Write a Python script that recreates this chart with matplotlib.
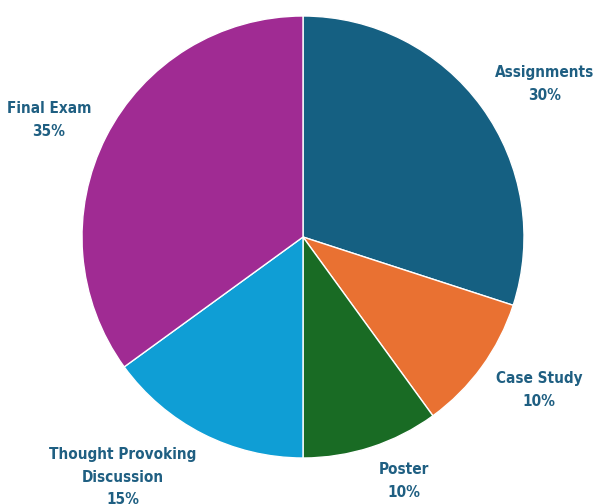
import matplotlib
matplotlib.use("Agg")
from matplotlib import pyplot as plt

# grade weighting shares, clockwise from 12 o'clock
categories = ["Assignments", "Case Study", "Poster", "Thought Provoking\nDiscussion", "Final Exam"]
shares = [30, 10, 10, 15, 35]
colors = ["#156082", "#E97132", "#196B24", "#0F9ED5", "#A02B93"]

fig = plt.figure(figsize=(5.95, 5.04), dpi=100)
ax = fig.add_axes([0, 0, 1, 1])

ax.pie(shares, colors=colors, startangle=90, counterclock=False,
       center=(303, 267), radius=221, frame=True,
       wedgeprops=dict(edgecolor="white", linewidth=1))
ax.set_xlim(0, 595)
ax.set_ylim(0, 504)
ax.set_aspect("equal")
ax.axis("off")

# label anchors (pixel layout)
label_pos = [(545, 420), (539, 114), (404, 23), (123, 27), (49, 384)]
for name, pct, (x, y) in zip(categories, shares, label_pos):
    ax.text(x, y, f"{name}\n{pct}%", ha="center", va="center",
            fontsize=11, fontweight="bold", color="#1F5F82",
            fontstretch="condensed", linespacing=1.6)

fig.savefig("out.png", dpi=100)
